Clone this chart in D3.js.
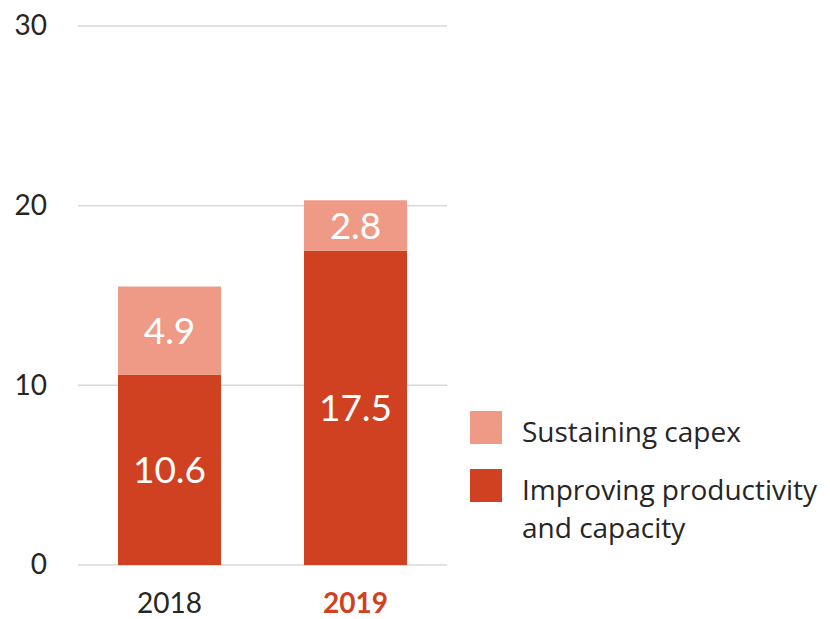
<!DOCTYPE html>
<html><head><meta charset="utf-8">
<script src="https://cdn.jsdelivr.net/npm/d3@7"></script>
<style>body{margin:0;background:#fff}svg{display:block}</style>
</head><body>
<svg id="c" width="830" height="619"></svg>
<script>
const categories = ["2018", "2019"];
const improving = [10.6, 17.5];
const sustaining = [4.9, 2.8];
const yTicks = [0, 10, 20, 30];
const seriesNames = ["Sustaining capex", "Improving productivity and capacity"];

const colDark = "#D04122", colLight = "#EE9A86";
const font = "Lato, 'Open Sans', sans-serif";
const legFont = "'Open Sans', sans-serif";
const svg = d3.select("#c");
const y = d3.scaleLinear().domain([0, 30]).range([565, 26]);
const x = d3.scaleBand().domain(categories).range([78, 447]).paddingInner(0.446).paddingOuter(0.215);

// gridlines
svg.append("g").selectAll("line").data(yTicks).join("line")
  .attr("x1", 78).attr("x2", 447)
  .attr("y1", d => y(d)).attr("y2", d => y(d))
  .attr("stroke", "#D9D9D9").attr("stroke-width", 1.5);

// y axis labels
const ya = svg.append("g").attr("transform", "translate(47,0)")
  .call(d3.axisLeft(y).tickValues(yTicks).tickSize(0).tickPadding(0));
ya.select(".domain").remove();
ya.selectAll("text").attr("font-family", font).attr("font-size", 28).attr("fill", "#262626");

const data = categories.map((c, i) => ({c, imp: improving[i], sus: sustaining[i]}));
const stack = d3.stack().keys(["imp", "sus"])(data);
const colors = {imp: colDark, sus: colLight};

stack.forEach(layer => {
  svg.append("g").selectAll("rect").data(layer).join("rect")
    .attr("x", d => x(d.data.c)).attr("width", x.bandwidth())
    .attr("y", d => y(d[1])).attr("height", d => y(d[0]) - y(d[1]))
    .attr("fill", colors[layer.key]);
  svg.append("g").selectAll("text").data(layer).join("text")
    .attr("x", d => x(d.data.c) + x.bandwidth() / 2)
    .attr("y", d => (y(d[0]) + y(d[1])) / 2)
    .attr("dy", "0.36em").attr("text-anchor", "middle")
    .attr("font-family", font).attr("font-size", 37).attr("fill", "#fff")
    .text(d => (d[1] - d[0]).toFixed(1));
});

// x axis labels
const xa = svg.append("g").attr("transform", "translate(0,590)")
  .call(d3.axisBottom(x).tickSize(0).tickPadding(0));
xa.select(".domain").remove();
xa.selectAll("text").attr("font-family", font).attr("font-size", 28)
  .attr("dy", "0.82em")
  .attr("fill", (d, i) => i === 1 ? colDark : "#262626")
  .attr("font-weight", (d, i) => i === 1 ? "bold" : "normal");

// legend
const leg = [
  {name: seriesNames[0], color: colLight, y: 411, lines: ["Sustaining capex"]},
  {name: seriesNames[1], color: colDark, y: 469, lines: ["Improving productivity", "and capacity"]}
];
leg.forEach(l => {
  svg.append("rect").attr("x", 470).attr("y", l.y).attr("width", 32).attr("height", 33).attr("fill", l.color);
  const t = svg.append("text").attr("x", 522).attr("y", l.y + 31)
    .attr("font-family", legFont).attr("font-size", 28).attr("fill", "#262626");
  l.lines.forEach((s, j) => t.append("tspan").attr("x", 522).attr("dy", j ? 38 : 0).text(s));
});
</script>
</body></html>
